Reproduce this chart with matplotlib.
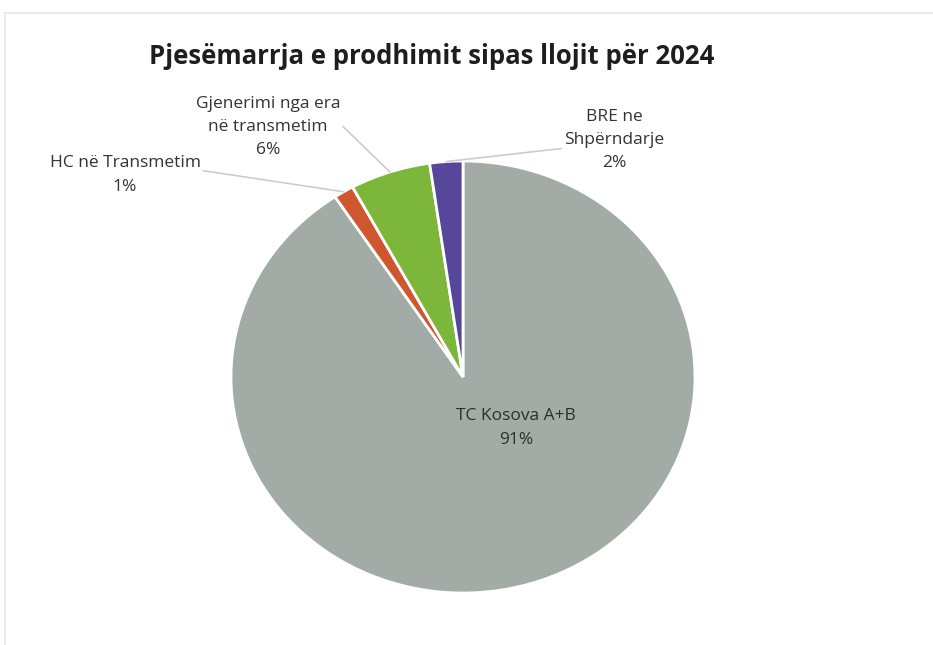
import numpy as np
import matplotlib.pyplot as plt
from matplotlib.lines import Line2D

# te dhenat (lexuar nga grafiku)
labels = ["TC Kosova A+B", "HC në Transmetim", "Gjenerimi nga era\nnë transmetim", "BRE ne\nShpërndarje"]
shares = [90.7, 1.4, 5.6, 2.3]
colors = ["#a2aba6", "#d0562f", "#7cb73c", "#57479a"]
title = "Pjesëmarrja e prodhimit sipas llojit për 2024"

# pozitat e etiketave (piksela te figures, origjina poshte majtas)
label_pos = [(516, 217), (125, 470), (268, 518), (614, 505)]

plt.rcParams['font.family'] = ['Open Sans', 'DejaVu Sans']

fig = plt.figure(figsize=(9.33, 6.45), dpi=100)
fig.patch.set_facecolor("white")

# korniza e zbehte
fig.add_artist(Line2D([5/933, 1], [1 - 13/645, 1 - 13/645], transform=fig.transFigure,
                      color="#e4e7e6", lw=1.2))
fig.add_artist(Line2D([5/933, 5/933], [0, 1 - 13/645], transform=fig.transFigure,
                      color="#e4e7e6", lw=1.2))

# pie: qendra (463,377) px nga lart, rrezet 232 x 216
cx, cy, rx, ry = 463, 377, 232, 216
ax = fig.add_axes([(cx - rx) / 933, (645 - cy - ry) / 645, 2 * rx / 933, 2 * ry / 645])
wedges, _ = ax.pie(shares, colors=colors, startangle=90, counterclock=False,
                   wedgeprops=dict(edgecolor="white", linewidth=2))
ax.set_xlim(-1, 1)
ax.set_ylim(-1, 1)
ax.set_aspect('auto')
ax.axis('off')

total = sum(shares)
for i, (lab, val, pos) in enumerate(zip(labels, shares, label_pos)):
    txt = f"{lab}\n{round(val / total * 100):.0f}%"
    if i == 0:
        ax.annotate(txt, xy=(0, 0), xytext=pos, textcoords='figure pixels',
                    ha='center', va='center', fontsize=12.5, color="#2e2e2e",
                    linespacing=1.6)
        continue
    w = wedges[i]
    ang = np.deg2rad((w.theta1 + w.theta2) / 2)
    ax.annotate(txt, xy=(np.cos(ang), np.sin(ang)), xycoords='data',
                xytext=pos, textcoords='figure pixels',
                ha='center', va='center', fontsize=12.5, color="#333333",
                linespacing=1.6,
                arrowprops=dict(arrowstyle='-', color="#c9cdcb", lw=1.2,
                                shrinkA=0, shrinkB=0, relpos=(1, 0.62) if i == 1 else (1, 0.55)))

fig.text(432 / 933, 1 - 56 / 645, title, ha='center', va='center',
         fontsize=18.5, fontweight='bold', color="#1e1e1e")

fig.savefig("out.png", dpi=100)
